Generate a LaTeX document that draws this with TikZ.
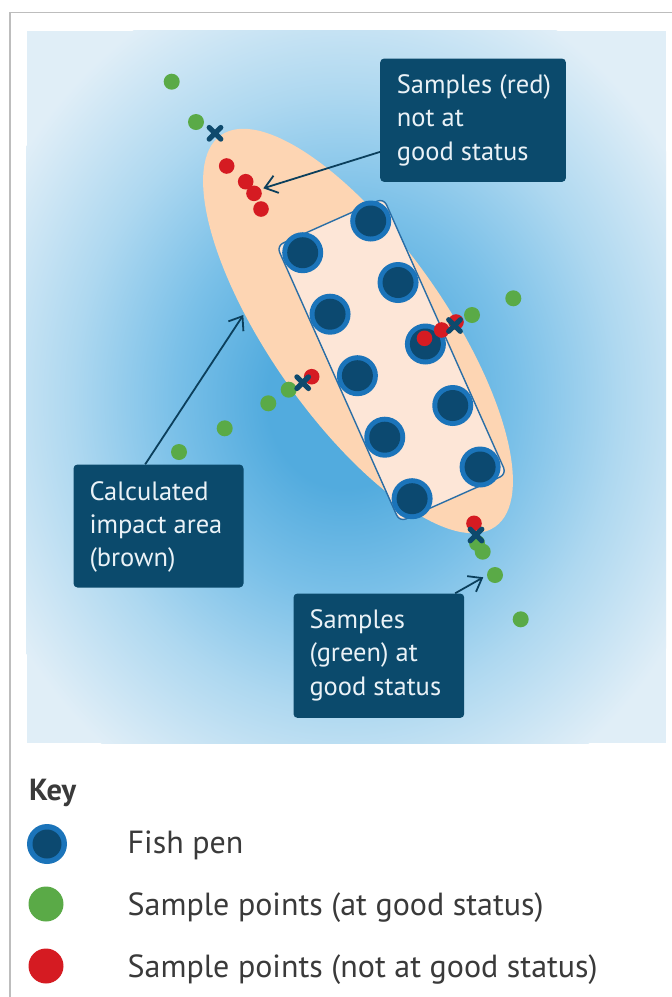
\documentclass[tikz,border=0pt]{standalone}
\usepackage{fontspec}
\setmainfont{PT Sans}
\usetikzlibrary{arrows.meta,calc}
\definecolor{sea1}{HTML}{52ABDE}
\definecolor{sea2}{HTML}{7AC0E8}
\definecolor{sea4}{HTML}{AED8F0}
\definecolor{sea3}{HTML}{E0EEF7}
\definecolor{peach}{HTML}{FDD5B3}
\definecolor{penfill}{HTML}{FDE6D7}
\definecolor{penline}{HTML}{2A6EA6}
\definecolor{navy}{HTML}{0B4A6C}
\definecolor{crossc}{HTML}{0E4A6D}
\definecolor{arrowc}{HTML}{0B3F5C}
\definecolor{penout}{HTML}{1B74BA}
\definecolor{penin}{HTML}{0C4970}
\definecolor{goodg}{HTML}{5AAA47}
\definecolor{badr}{HTML}{D51B22}
\definecolor{framegray}{HTML}{BDBDBD}
\definecolor{keytext}{HTML}{3A3A3A}
\definecolor{boxtext}{HTML}{EAF2F7}
\pgfdeclareradialshading{seashade}{\pgfpoint{0bp}{0bp}}{color(0bp)=(sea1); color(5bp)=(sea1); color(11bp)=(sea2); color(17.5bp)=(sea4); color(25bp)=(sea3); color(50bp)=(sea3)}
\begin{document}
\begin{tikzpicture}[x=1pt,y=-1pt,
  lbl/.style={fill=navy, rounded corners=4pt, inner sep=0pt, anchor=north west},
  lbltext/.style={text=boxtext, font=\fontsize{26.5}{33.3}\selectfont, align=left, anchor=base west, inner sep=0pt},
  keylbl/.style={text=keytext, font=\fontsize{32}{36}\selectfont, anchor=base west, inner sep=0pt},
  arr/.style={draw=arrowc, line width=1.8pt, -{Straight Barb[length=12pt,width=18pt]}},
  pen/.pic={\fill[penout] (0,0) circle (20.5pt); \fill[penin] (0,0) circle (15.5pt);},
  xmark/.pic={\draw[crossc, line width=5.2pt, line cap=round] (-5.8,-5.8) -- (5.8,5.8) (-5.8,5.8) -- (5.8,-5.8);},
  gdot/.style={fill=goodg},
  rdot/.style={fill=badr}]
\useasboundingbox (0,0) rectangle (672,997);
\fill[white] (0,0) rectangle (672,997);
\draw[framegray, line width=1.7pt] (10,997) -- (10,12.5) -- (672,12.5);
% sea panel
\fill[sea3] (26.7,30.7) rectangle (666,743.3);
\begin{scope}
  \clip (26.7,30.7) rectangle (666,743.3);
  \shade[shading=seashade] (345,400) ellipse [x radius=390pt, y radius=440pt];
\end{scope}
% impact area
\begin{scope}[shift={(358,331)}, rotate=-55]
  \fill[peach] (0,0) ellipse [x radius=239pt, y radius=88pt];
\end{scope}
% pen group
\begin{scope}[shift={(391.6,360)}, rotate=24]
  \filldraw[fill=penfill, draw=penline, line width=1.4pt, rounded corners=7pt] (-58.5,-151) rectangle (58.5,151);
\end{scope}
\foreach \k in {0,...,4} {
  \pic at ({302.7+27.35*\k},{252.7+61.5*\k}) {pen};
  \pic at ({370.7+27.35*\k},{221+61.5*\k}) {pen};
}
% green samples
\foreach \p in {(171.7,81.7),(196,122),(513.3,298.3),(472,315),(288.7,389.7),(268.3,403.3),(224.7,428.3),(179,452),(477,543),(482.7,551.7),(495,575),(520.7,619.3)}
  \fill[gdot] \p circle (8pt);
% red samples
\foreach \p in {(226.7,166),(245.7,181.7),(254,193.3),(261,209),(311.7,376.7),(424.5,338.3),(441.7,330),(456,322),(474,523.3)}
  \fill[rdot] \p circle (7.8pt);
% crosses
\pic at (215,133.3) {xmark};
\pic at (302.7,382.7) {xmark};
\pic at (454.5,325.5) {xmark};
\pic at (476,535) {xmark};
% labels
\node[lbl, minimum width=185.7pt, minimum height=123.4pt] (redbox) at (380,58.3) {};
\node[lbltext] (redtxt) at (396.7,160) {Samples (red)\\not at\\good status};
\node[lbl, minimum width=170pt, minimum height=123pt] (areabox) at (73.3,464.3) {};
\node[lbltext] (areatxt) at (89.3,566.6) {Calculated\\impact area\\(brown)};
\node[lbl, minimum width=170.7pt, minimum height=124.4pt] (greenbox) at (293.3,593.3) {};
\node[lbltext] (greentxt) at (309.3,695) {Samples\\(green) at\\good status};
% arrows
\coordinate (redtip) at (263.3,188.3);
\coordinate (areatip) at (243.3,315);
\coordinate (greentip) at (483.3,577.3);
\draw[arr] ([yshift=-31.7pt]redbox.west) -- (redtip);
\draw[arr] ([xshift=-13.3pt]areabox.north) -- (areatip);
\draw[arr] ([xshift=76.3pt]greenbox.north) -- (greentip);
% key
\node[keylbl, font=\fontsize{30.5}{34}\selectfont\bfseries] (keyhead) at (29,800) {Key};
\fill[penout] (47,844) circle (20pt);
\fill[penin] (47,844) circle (14.5pt);
\node[keylbl] (k1) at (127.5,853.3) {Fish pen};
\fill[goodg] (46,904) circle (17.5pt);
\node[keylbl] (k2) at (127.5,915.7) {Sample points (at good status)};
\fill[badr] (46,966) circle (17.5pt);
\node[keylbl] (k3) at (127.5,977.3) {Sample points (not at good status)};
\end{tikzpicture}
\end{document}
